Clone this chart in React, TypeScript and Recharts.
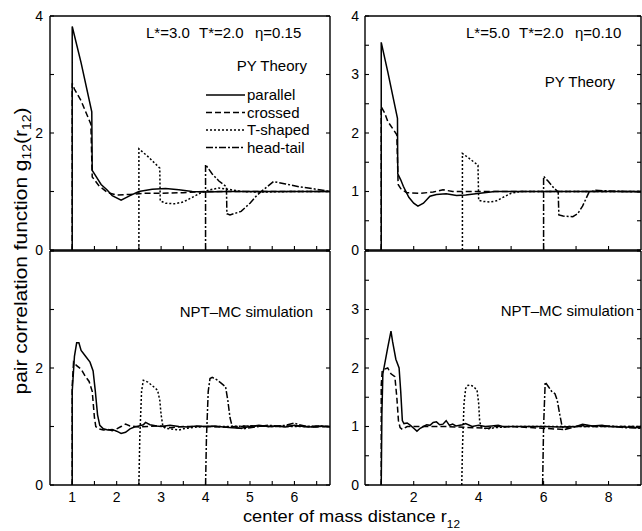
import { LineChart, Line, XAxis, YAxis } from "recharts";

type Pt = [number, number];

// ---- tick positions and labels ----
const leftXTicks = [1, 1.5, 2, 2.5, 3, 3.5, 4, 4.5, 5, 5.5, 6, 6.5];
const leftXLabels = [1, 2, 3, 4, 5, 6];
const leftYTicks = [0, 1, 2, 3, 4];
const rightXTicks = [1, 2, 3, 4, 5, 6, 7, 8];
const rightXLabels = [2, 4, 6, 8];
const rightYTicks = [0, 0.5, 1, 1.5, 2, 2.5, 3, 3.5, 4];

// ---- PY theory, L*=3.0 ----
const pyL3Parallel: Pt[] = [
  [1, 0], [1, 3.82], [1.2, 3.2], [1.44, 2.36], [1.45, 1.36], [1.5, 1.3], [1.65, 1.12],
  [1.78, 1.03], [1.9, 0.93], [2.1, 0.85], [2.3, 0.93], [2.5, 1.0], [2.8, 1.04], [3.1, 1.05],
  [3.4, 1.03], [3.7, 1.0], [4, 0.99], [4.5, 1.0], [5, 1.0], [6, 1.0], [6.8, 1.0],
];
const pyL3Crossed: Pt[] = [
  [1, 0], [1, 2.85], [1.05, 2.75], [1.2, 2.55], [1.42, 2.15], [1.45, 1.25], [1.6, 1.1],
  [1.8, 0.98], [2, 0.94], [2.3, 0.95], [2.6, 0.97], [3, 0.97], [3.5, 0.98], [4, 1.0], [6.8, 1.0],
];
const pyL3TShaped: Pt[] = [
  [2.5, 0], [2.5, 1.73], [2.7, 1.6], [2.97, 1.4], [2.98, 0.84], [3.1, 0.8], [3.3, 0.79],
  [3.5, 0.82], [3.7, 0.9], [3.9, 0.98], [4.1, 1.03], [4.3, 1.06], [4.5, 1.04], [4.8, 1.0],
  [5.2, 0.99], [6, 1.0], [6.8, 1.0],
];
const pyL3HeadTail: Pt[] = [
  [4, 0], [4, 1.46], [4.15, 1.3], [4.3, 1.18], [4.47, 1.08], [4.48, 0.62], [4.55, 0.6],
  [4.8, 0.66], [5.0, 0.8], [5.15, 0.93], [5.3, 1.03], [5.53, 1.17], [5.8, 1.13], [6.1, 1.08],
  [6.4, 1.05], [6.8, 1.0],
];

// ---- PY theory, L*=5.0 ----
const pyL5Parallel: Pt[] = [
  [1, 0], [1, 3.55], [1.2, 3.05], [1.5, 2.25], [1.51, 1.3], [1.6, 1.2], [1.68, 1.09],
  [1.85, 0.9], [2.0, 0.8], [2.13, 0.75], [2.3, 0.8], [2.5, 0.92], [2.7, 0.95], [3.0, 0.96],
  [3.32, 0.93], [3.6, 0.94], [4.04, 0.97], [4.5, 1.0], [5, 1.0], [9, 1.0],
];
const pyL5Crossed: Pt[] = [
  [1, 0], [1, 2.45], [1.1, 2.35], [1.2, 2.2], [1.48, 1.97], [1.52, 1.12], [1.6, 1.05],
  [1.78, 0.98], [2.2, 0.97], [2.6, 0.99], [2.9, 1.03], [3.2, 1.0], [3.8, 1.0], [9, 1.0],
];
const pyL5TShaped: Pt[] = [
  [3.5, 0], [3.5, 1.65], [3.7, 1.57], [3.98, 1.45], [4.0, 0.85], [4.15, 0.83], [4.35, 0.82],
  [4.55, 0.84], [4.75, 0.9], [5.0, 0.97], [5.3, 1.0], [6, 1.0], [9, 1.0],
];
const pyL5HeadTail: Pt[] = [
  [6, 0], [6, 1.26], [6.15, 1.17], [6.3, 1.07], [6.45, 0.99], [6.47, 0.6], [6.6, 0.58],
  [6.9, 0.57], [7.05, 0.62], [7.2, 0.75], [7.4, 0.99], [7.6, 1.02], [8, 1.01], [8.5, 1.0],
  [9, 0.99],
];

// ---- NPT-MC simulation, L*=3.0 ----
const mcL3Parallel: Pt[] = [
  [1, 0], [1.0, 1.6], [1.05, 2.2], [1.1, 2.43], [1.15, 2.43], [1.2, 2.3], [1.3, 2.2],
  [1.4, 2.1], [1.47, 1.95], [1.52, 1.6], [1.57, 1.2], [1.62, 1.02], [1.7, 0.96], [1.8, 0.94],
  [1.9, 0.95], [2.0, 0.92], [2.1, 0.88], [2.2, 0.9], [2.3, 0.96], [2.4, 0.99], [2.5, 1.01],
  [2.6, 1.03], [2.65, 1.07], [2.75, 1.03], [2.9, 1.01], [3.0, 1.0], [3.2, 1.02], [3.4, 1.0],
  [3.6, 0.99], [3.8, 1.01], [4.0, 1.0], [4.2, 1.01], [4.4, 0.99], [4.6, 0.98], [4.8, 0.97],
  [5.0, 1.0], [5.2, 1.02], [5.4, 1.0], [5.6, 1.01], [5.8, 0.99], [6.0, 1.02], [6.2, 1.0],
  [6.4, 0.99], [6.6, 1.01], [6.8, 0.99],
];
const mcL3Crossed: Pt[] = [
  [1, 0], [1, 1.7], [1.03, 2.1], [1.1, 2.04], [1.2, 1.98], [1.3, 1.85], [1.38, 1.77],
  [1.45, 1.6], [1.5, 1.15], [1.53, 1.0], [1.6, 0.96], [1.7, 0.94], [1.8, 0.95], [1.9, 0.93],
  [2.0, 0.96], [2.1, 1.0], [2.2, 1.04], [2.3, 1.01], [2.5, 0.99], [2.7, 1.0], [3.0, 1.01],
  [3.2, 0.98], [3.5, 1.0], [4, 1.0], [4.5, 0.99], [5, 1.01], [5.5, 1.0], [6, 1.01],
  [6.5, 0.99], [6.8, 1.0],
];
const mcL3TShaped: Pt[] = [
  [2.5, 0], [2.52, 0.8], [2.56, 1.6], [2.6, 1.79], [2.7, 1.76], [2.8, 1.7], [2.92, 1.62],
  [2.97, 1.45], [3.0, 1.2], [3.04, 1.0], [3.1, 0.97], [3.2, 0.96], [3.3, 0.95], [3.4, 0.94],
  [3.5, 0.96], [3.6, 0.97], [3.8, 0.99], [4.0, 1.0], [4.5, 1.0], [5, 1.01], [5.5, 1.0],
  [6, 1.0], [6.8, 1.0],
];
const mcL3HeadTail: Pt[] = [
  [4, 0], [4.02, 0.8], [4.06, 1.6], [4.1, 1.82], [4.15, 1.84], [4.25, 1.8], [4.35, 1.74],
  [4.45, 1.68], [4.5, 1.45], [4.55, 1.15], [4.6, 1.0], [4.7, 0.98], [4.85, 0.96], [5.0, 0.98],
  [5.2, 1.0], [5.4, 1.02], [5.6, 1.01], [5.8, 1.02], [6.0, 1.06], [6.1, 1.03], [6.3, 1.0],
  [6.5, 1.01], [6.8, 1.0],
];

// ---- NPT-MC simulation, L*=5.0 ----
const mcL5Parallel: Pt[] = [
  [1, 0], [1.02, 1.2], [1.05, 1.9], [1.1, 2.05], [1.2, 2.35], [1.3, 2.63], [1.35, 2.45],
  [1.45, 2.15], [1.55, 2.0], [1.6, 1.6], [1.65, 1.1], [1.7, 1.05], [1.8, 1.06], [1.9, 1.02],
  [2.0, 0.97], [2.1, 0.92], [2.2, 0.97], [2.3, 1.0], [2.4, 1.03], [2.5, 1.02], [2.6, 1.07],
  [2.7, 1.08], [2.8, 1.03], [2.9, 1.04], [3.0, 1.1], [3.1, 1.02], [3.2, 1.04], [3.3, 1.01],
  [3.5, 1.03], [3.6, 1.05], [3.8, 1.0], [4.0, 1.02], [4.2, 1.0], [4.4, 1.01], [4.6, 1.02],
  [4.8, 0.99], [5.0, 1.0], [5.5, 1.0], [6, 1.0], [6.5, 0.99], [7, 1.0], [7.2, 1.04],
  [7.5, 1.01], [7.8, 1.02], [8, 1.0], [8.5, 0.99], [9, 0.98],
];
const mcL5Crossed: Pt[] = [
  [1, 0], [1, 1.7], [1.03, 1.95], [1.1, 1.98], [1.2, 2.0], [1.3, 1.9], [1.42, 1.85],
  [1.48, 1.5], [1.53, 1.1], [1.58, 0.98], [1.65, 0.95], [1.8, 1.0], [2, 1.0], [3, 1.0],
  [4.3, 0.97], [4.5, 1.0], [5, 1.0], [6.6, 0.95], [6.8, 1.0], [9, 1.0],
];
const mcL5TShaped: Pt[] = [
  [3.48, 0], [3.5, 0.6], [3.55, 1.4], [3.6, 1.65], [3.65, 1.7], [3.75, 1.71], [3.85, 1.68],
  [3.95, 1.62], [4.0, 1.4], [4.03, 1.1], [4.07, 1.0], [4.15, 0.97], [4.3, 0.96], [4.5, 0.98],
  [5, 1.0], [6, 1.0], [9, 1.0],
];
const mcL5HeadTail: Pt[] = [
  [5.97, 0], [6.0, 1.0], [6.05, 1.76], [6.15, 1.68], [6.25, 1.6], [6.35, 1.56], [6.42, 1.45],
  [6.5, 1.2], [6.57, 1.0], [6.65, 0.95], [6.8, 0.97], [7.0, 1.0], [7.3, 1.02], [7.6, 1.0],
  [8, 1.01], [8.5, 0.98], [9, 0.97],
];

const FONT = "'Liberation Sans', Arial, sans-serif";
const DASHES = [undefined, "6 3", "2 2", "7 2 2 2"];

const toRows = (pts: Pt[]) => pts.map(([x, y]) => ({ x, y }));

interface PanelProps {
  left: number;
  top: number;
  width: number;
  height: number;
  xDomain: [number, number];
  xTicks: number[];
  xLabels: number[];
  yTicks: number[];
  yLabels: number[];
  yAxisWidth: number;
  rightWidth: number;
  topHeight: number;
  bottomHeight: number;
  yTickMargin: number;
  series: Pt[][];
}

function Panel(p: PanelProps) {
  const tickStyle = { fontSize: 14, fill: "#000", fontFamily: FONT };
  const axisLine = { stroke: "#000", strokeWidth: 1.4 };
  const tickLine = { stroke: "#000", strokeWidth: 1.1 };
  return (
    <div style={{ position: "absolute", left: p.left, top: p.top }}>
      <LineChart
        width={p.width}
        height={p.height}
        margin={{ top: 0, right: 0, bottom: 0, left: 0 }}
      >
        <XAxis
          xAxisId="b"
          dataKey="x"
          type="number"
          domain={p.xDomain}
          allowDataOverflow
          ticks={p.xTicks}
          height={p.bottomHeight}
          tickSize={-4}
          tickMargin={11}
          axisLine={axisLine}
          tickLine={tickLine}
          tick={tickStyle}
          interval={0}
          tickFormatter={(v: number) => (p.xLabels.includes(v) ? String(v) : "")}
        />
        <XAxis
          xAxisId="t"
          orientation="top"
          type="number"
          domain={p.xDomain}
          allowDataOverflow
          ticks={p.xTicks}
          height={p.topHeight}
          tickSize={-4}
          axisLine={axisLine}
          tickLine={tickLine}
          interval={0}
          tickFormatter={() => ""}
        />
        <YAxis
          yAxisId="l"
          type="number"
          domain={[0, 4]}
          allowDataOverflow
          ticks={p.yTicks}
          width={p.yAxisWidth}
          tickSize={-4}
          tickMargin={p.yTickMargin}
          axisLine={axisLine}
          tickLine={tickLine}
          tick={tickStyle}
          interval={0}
          tickFormatter={(v: number) => (p.yLabels.includes(v) ? String(v) : "")}
        />
        <YAxis
          yAxisId="r"
          orientation="right"
          type="number"
          domain={[0, 4]}
          allowDataOverflow
          ticks={p.yTicks}
          width={p.rightWidth}
          tickSize={-4}
          axisLine={axisLine}
          tickLine={tickLine}
          interval={0}
          tickFormatter={() => ""}
        />
        {p.series.map((s, i) => (
          <Line
            key={i}
            xAxisId="b"
            yAxisId="l"
            data={toRows(s)}
            dataKey="y"
            type="linear"
            stroke="#000"
            strokeWidth={1.5}
            strokeDasharray={DASHES[i]}
            dot={false}
            activeDot={false}
            isAnimationActive={false}
          />
        ))}
      </LineChart>
    </div>
  );
}

const legendItems = ["parallel", "crossed", "T-shaped", "head-tail"];

function StateLabel({ dx, parts }: { dx: number; parts: string[] }) {
  return (
    <g fontSize={15}>
      <text x={146 + dx} y={38}>{parts[0]}</text>
      <text x={199 + dx} y={38}>{parts[1]}</text>
      <text x={255 + dx} y={38}>{parts[2]}</text>
    </g>
  );
}

export default function App() {
  const leftCommon = {
    width: 340,
    xDomain: [0.5, 6.8] as [number, number],
    xTicks: leftXTicks,
    yTicks: leftYTicks,
    yAxisWidth: 50,
    rightWidth: 10,
    yTickMargin: 11,
  };
  const rightCommon = {
    width: 312,
    xDomain: [0.5, 9] as [number, number],
    xTicks: rightXTicks,
    yTicks: rightYTicks,
    yAxisWidth: 35,
    rightWidth: 1,
    yTickMargin: 10,
  };
  return (
    <div
      style={{
        position: "absolute",
        left: 0,
        top: 0,
        width: 642,
        height: 531,
        background: "#fff",
        fontFamily: FONT,
        overflow: "hidden",
      }}
    >
      <Panel
        {...leftCommon}
        left={0}
        top={0}
        height={260}
        topHeight={16}
        bottomHeight={10}
        xLabels={[]}
        yLabels={[0, 2, 4]}
        series={[pyL3Parallel, pyL3Crossed, pyL3TShaped, pyL3HeadTail]}
      />
      <Panel
        {...rightCommon}
        left={330}
        top={0}
        height={260}
        topHeight={16}
        bottomHeight={10}
        xLabels={[]}
        yLabels={[0, 1, 2, 3, 4]}
        series={[pyL5Parallel, pyL5Crossed, pyL5TShaped, pyL5HeadTail]}
      />
      <Panel
        {...leftCommon}
        left={0}
        top={240}
        height={291}
        topHeight={11}
        bottomHeight={46}
        xLabels={leftXLabels}
        yLabels={[0, 2]}
        series={[mcL3Parallel, mcL3Crossed, mcL3TShaped, mcL3HeadTail]}
      />
      <Panel
        {...rightCommon}
        left={330}
        top={240}
        height={291}
        topHeight={11}
        bottomHeight={46}
        xLabels={rightXLabels}
        yLabels={[0, 1, 2, 3]}
        series={[mcL5Parallel, mcL5Crossed, mcL5TShaped, mcL5HeadTail]}
      />
      <svg
        width={642}
        height={531}
        style={{ position: "absolute", left: 0, top: 0, pointerEvents: "none" }}
        fontFamily={FONT}
        fill="#000"
      >
        <StateLabel dx={0} parts={["L*=3.0", "T*=2.0", "η=0.15"]} />
        <StateLabel dx={320} parts={["L*=5.0", "T*=2.0", "η=0.10"]} />
        <text x={307} y={71} fontSize={15} textAnchor="end">PY Theory</text>
        <text x={615} y={87} fontSize={15} textAnchor="end">PY Theory</text>
        <text x={313} y={317} fontSize={15} textAnchor="end">NPT–MC simulation</text>
        <text x={634} y={316} fontSize={15} textAnchor="end">NPT–MC simulation</text>
        {legendItems.map((name, i) => (
          <g key={name}>
            <line
              x1={206}
              x2={245}
              y1={95 + i * 17.5}
              y2={95 + i * 17.5}
              stroke="#000"
              strokeWidth={1.5}
              strokeDasharray={DASHES[i]}
            />
            <text x={247} y={100 + i * 17.5} fontSize={15}>{name}</text>
          </g>
        ))}
        <text
          transform="translate(27,251) rotate(-90)"
          fontSize={18}
          textAnchor="middle"
          textLength={287}
          lengthAdjust="spacingAndGlyphs"
        >
          pair correlation function g<tspan dy={4} fontSize={12}>12</tspan>
          <tspan dy={-4}>(r</tspan>
          <tspan dy={4} fontSize={12}>12</tspan>
          <tspan dy={-4}>)</tspan>
        </text>
        <text x={243} y={522} fontSize={17} textLength={217} lengthAdjust="spacingAndGlyphs">
          center of mass distance r<tspan dy={6} fontSize={11}>12</tspan>
        </text>
      </svg>
    </div>
  );
}
